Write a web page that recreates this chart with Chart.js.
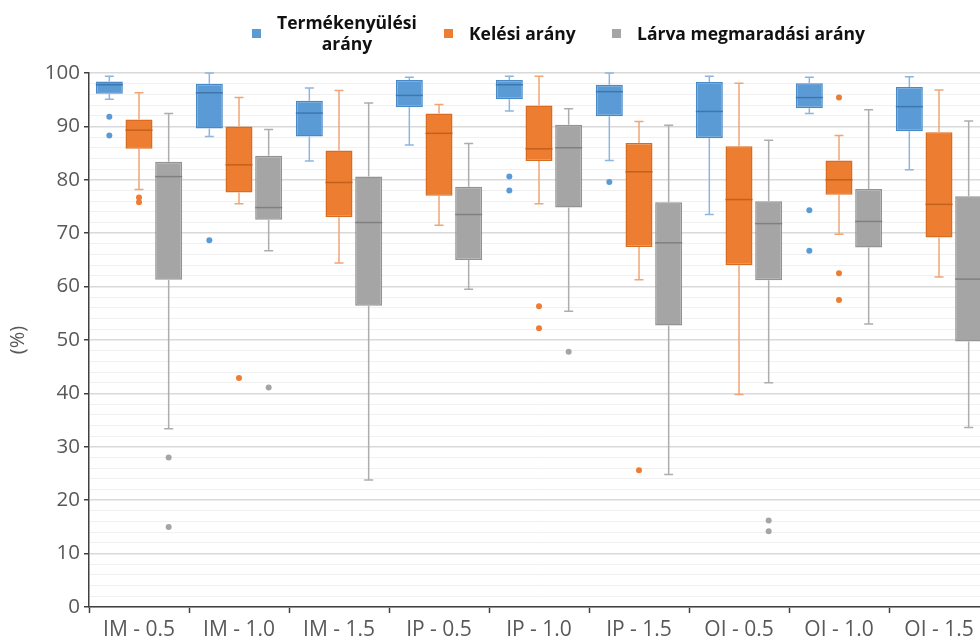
<!DOCTYPE html>
<html>
<head>
<meta charset="utf-8">
<script src="https://cdn.jsdelivr.net/npm/chart.js@4/dist/chart.umd.min.js"></script>
<style>
  html, body { margin: 0; padding: 0; background: #fff; overflow: hidden; width: 980px; height: 643px; }
  #wrap { position: relative; width: 1000px; height: 643px; }
  #legend { position: absolute; left: 0; top: 0; width: 1000px; height: 60px;
            font-family: "Open Sans", sans-serif; font-weight: bold; font-size: 17.5px; color: #111; }
  #legend .item { position: absolute; display: flex; align-items: center; height: 44px; top: 11px; }
  #legend .sw { width: 9px; height: 9px; margin-right: 16px; }
  #legend .txt { text-align: center; line-height: 21px; white-space: nowrap; }
</style>
</head>
<body>
<div id="wrap">
  <canvas id="box-chart" width="1000" height="643"></canvas>
  <div id="legend"></div>
</div>
<script>
const categories = ['IM - 0.5', 'IM - 1.0', 'IM - 1.5', 'IP - 0.5', 'IP - 1.0', 'IP - 1.5', 'OI - 0.5', 'OI - 1.0', 'OI - 1.5'];
const seriesNames = [['Termékenyülési', 'arány'], ['Kelési arány'], ['Lárva megmaradási arány']];

// Termékenyülési arány
const fertMin = [95.1, 88.1, 83.5, 86.5, 92.9, 83.6, 73.5, 92.4, 81.9];
const fertQ1 = [96.1, 89.6, 88.1, 93.6, 95.1, 91.9, 87.8, 93.4, 89.1];
const fertMed = [97.8, 96.3, 92.5, 95.8, 97.8, 96.5, 92.8, 95.4, 93.7];
const fertQ3 = [98.4, 98.0, 94.8, 98.7, 98.7, 97.8, 98.3, 98.1, 97.4];
const fertMax = [99.4, 100, 97.2, 99.2, 99.4, 100, 99.4, 99.2, 99.3];
const fertOut = [[91.8, 88.3], [68.7], [], [], [80.6, 78.0], [79.6], [], [74.3, 66.7], []];

// Kelési arány
const hatchMin = [78.2, 75.5, 64.4, 71.5, 75.5, 61.3, 39.8, 69.8, 61.8];
const hatchQ1 = [85.8, 77.6, 73.0, 77.0, 83.5, 67.4, 64.0, 77.2, 69.2];
const hatchMed = [89.3, 82.8, 79.5, 88.7, 85.8, 81.5, 76.3, 80.0, 75.4];
const hatchQ3 = [91.3, 90.0, 85.5, 92.4, 93.9, 86.9, 86.3, 83.6, 88.9];
const hatchMax = [96.3, 95.4, 96.7, 94.1, 99.4, 90.9, 98.1, 88.3, 96.8];
const hatchOut = [[76.7, 75.8], [42.9], [], [], [56.3, 52.2], [25.6], [], [95.4, 62.5, 57.5], []];

// Lárva megmaradási arány
const larvaMin = [33.4, 66.7, 23.8, 59.5, 55.4, 24.8, 42.0, 53.0, 33.6];
const larvaQ1 = [61.3, 72.5, 56.4, 65.0, 74.8, 52.7, 61.2, 67.3, 49.7];
const larvaMed = [80.6, 74.8, 72.0, 73.5, 86.0, 68.2, 71.8, 72.2, 61.4];
const larvaQ3 = [83.4, 84.5, 80.6, 78.7, 90.3, 75.8, 76.0, 78.3, 76.9];
const larvaMax = [92.4, 89.4, 94.4, 86.8, 93.3, 90.2, 87.4, 93.1, 91.0];
const larvaOut = [[28.0, 15.0], [41.1], [], [], [47.8], [], [16.2, 14.2], [], []];

const fills = ['#5B9BD5', '#ED7D31', '#A5A5A5'];
const borders = ['#4A89C8', '#D86D22', '#939393'];
const whiskerColors = ['#8DB6DF', '#EFA577', '#ADADAD'];
const medianColors = ['#3F76AE', '#C2611D', '#808080'];

const stats = [
    {min: fertMin, q1: fertQ1, med: fertMed, q3: fertQ3, max: fertMax, out: fertOut},
    {min: hatchMin, q1: hatchQ1, med: hatchMed, q3: hatchQ3, max: hatchMax, out: hatchOut},
    {min: larvaMin, q1: larvaQ1, med: larvaMed, q3: larvaQ3, max: larvaMax, out: larvaOut}
];

// html legend (first label is on two lines)
const legendEl = document.getElementById('legend');
const legendLeft = [252, 444, 612];
seriesNames.forEach((name, i) => {
    const item = document.createElement('div');
    item.className = 'item';
    item.style.left = legendLeft[i] + 'px';
    item.innerHTML = '<div class="sw" style="background:' + fills[i] + '"></div><div class="txt">' + name.join('<br>') + '</div>';
    legendEl.appendChild(item);
});

const boxPlugin = {
    id: 'boxWhiskers',
    afterDatasetsDraw(chart) {
        const ctx = chart.ctx;
        const y = chart.scales.y;
        stats.forEach((s, di) => {
            const meta = chart.getDatasetMeta(di);
            meta.data.forEach((bar, i) => {
                const x = bar.x;
                const half = bar.width / 2;
                const cap = 4.5;
                ctx.save();
                // whiskers
                ctx.strokeStyle = whiskerColors[di];
                ctx.lineWidth = 1.5;
                ctx.beginPath();
                ctx.moveTo(x, y.getPixelForValue(s.q3[i]));
                ctx.lineTo(x, y.getPixelForValue(s.max[i]));
                ctx.moveTo(x - cap, y.getPixelForValue(s.max[i]));
                ctx.lineTo(x + cap, y.getPixelForValue(s.max[i]));
                ctx.moveTo(x, y.getPixelForValue(s.q1[i]));
                ctx.lineTo(x, y.getPixelForValue(s.min[i]));
                ctx.moveTo(x - cap, y.getPixelForValue(s.min[i]));
                ctx.lineTo(x + cap, y.getPixelForValue(s.min[i]));
                ctx.stroke();
                // median
                ctx.strokeStyle = medianColors[di];
                ctx.beginPath();
                ctx.moveTo(x - half, y.getPixelForValue(s.med[i]));
                ctx.lineTo(x + half, y.getPixelForValue(s.med[i]));
                ctx.stroke();
                // outliers
                ctx.fillStyle = fills[di];
                s.out[i].forEach(v => {
                    ctx.beginPath();
                    ctx.arc(x, y.getPixelForValue(v), 3, 0, Math.PI * 2);
                    ctx.fill();
                });
                ctx.restore();
            });
        });
    }
};

const datasets = stats.map((s, di) => ({
    label: seriesNames[di].join(' '),
    data: s.q1.map((q, i) => [q, s.q3[i]]),
    backgroundColor: fills[di],
    borderColor: borders[di],
    borderWidth: 1.5,
    borderSkipped: false,
    categoryPercentage: 0.89,
    barPercentage: 0.91
}));

const isMajor = (c) => c.tick && c.tick.value % 10 === 0;

const ctx = document.getElementById('box-chart').getContext('2d');
new Chart(ctx, {
    type: 'bar',
    data: {labels: categories, datasets: datasets},
    options: {
        responsive: false,
        animation: false,
        layout: {padding: {top: 73, right: 11, left: 0, bottom: 0}},
        plugins: {legend: {display: false}, tooltip: {enabled: false}},
        scales: {
            x: {
                afterFit: (s) => { s.height = 36; },
                border: {color: '#404040', width: 1.5},
                grid: {offset: true, drawOnChartArea: false, drawTicks: true, tickLength: 6, tickColor: '#404040', tickWidth: 1.5},
                ticks: {color: '#595959', font: {family: 'Open Sans', size: 21}, padding: 4, maxRotation: 0}
            },
            y: {
                min: 0, max: 100,
                afterFit: (s) => { s.width = 89; },
                border: {color: '#404040', width: 1.5},
                title: {display: true, text: '(%)', color: '#595959', font: {family: 'Open Sans', size: 20}, padding: {top: 6, bottom: 0}},
                grid: {
                    drawTicks: true, tickLength: 5, tickWidth: 1.5,
                    tickColor: (c) => isMajor(c) ? '#404040' : 'rgba(0,0,0,0)',
                    color: (c) => isMajor(c) ? '#D9D9D9' : '#F0F0F0',
                    lineWidth: (c) => isMajor(c) ? 1.5 : 1
                },
                ticks: {
                    stepSize: 2, autoSkip: false, padding: 4,
                    color: '#595959', font: {family: 'Open Sans', size: 20.5},
                    callback: (v) => v % 10 === 0 ? v : ''
                }
            }
        }
    },
    plugins: [boxPlugin]
});
</script>
</body>
</html>
